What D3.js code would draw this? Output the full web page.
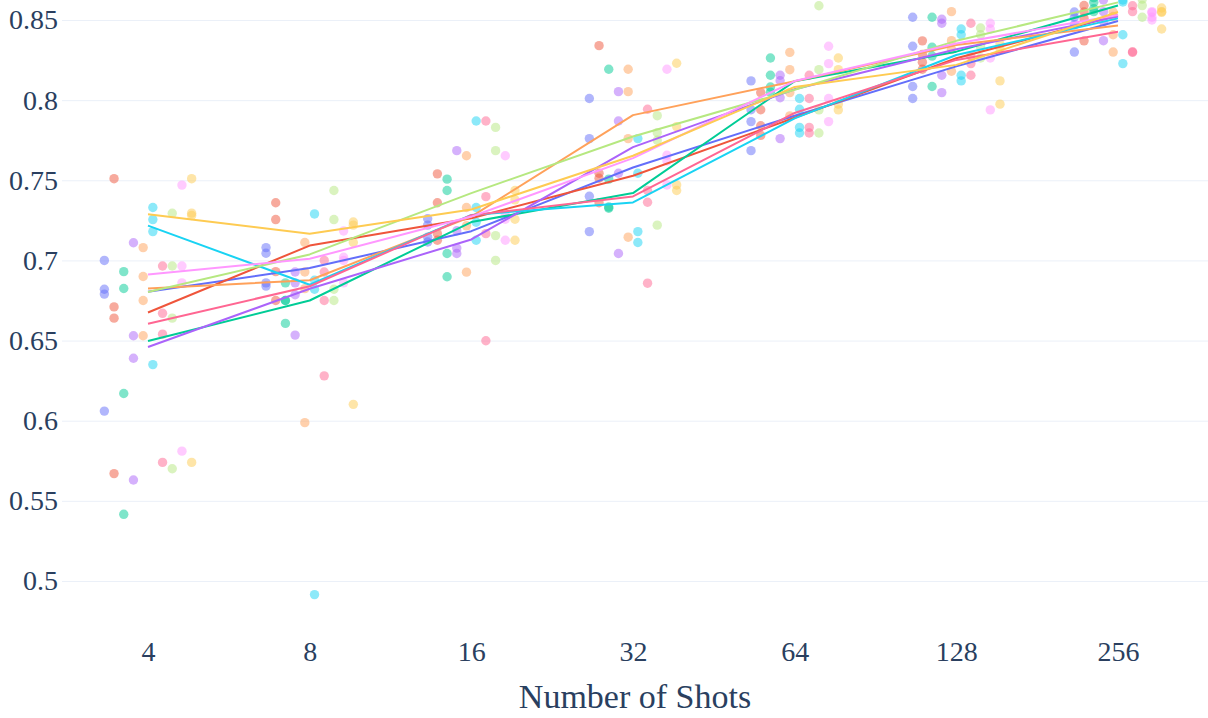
<!DOCTYPE html>
<html><head><meta charset="utf-8">
<script src="https://cdn.jsdelivr.net/npm/d3@7"></script>
<style>body{margin:0;background:#fff} svg text{font-family:"Liberation Serif","Times New Roman",Tinos,serif !important;}</style>
</head><body><svg id="c" width="1208" height="718"></svg>
<script>
const shots = [4, 8, 16, 32, 64, 128, 256];
const yTicks = [0.5, 0.55, 0.6, 0.65, 0.7, 0.75, 0.8, 0.85];
const colors = ["#636efa","#EF553B","#00cc96","#ab63fa","#FFA15A","#19d3f3","#FF6692","#B6E880","#FF97FF","#FECB52"];

// four runs per shot count, per series
const series1 = [[0.700,0.682,0.679,0.606],[0.708,0.7045,0.686,0.684],[0.726,0.722,0.7145,0.7115],[0.801,0.776,0.740,0.718],[0.812,0.794,0.7866,0.7685],[0.8517,0.8336,0.8085,0.801],[0.855,0.8517,0.847,0.830]];
const series2 = [[0.751,0.671,0.664,0.567],[0.736,0.7255,0.693,0.675],[0.754,0.736,0.7167,0.7126],[0.834,0.7544,0.7513,0.736],[0.8047,0.794,0.784,0.778],[0.837,0.8285,0.8237,0.8193],[0.859,0.855,0.851,0.837]];
const series3 = [[0.693,0.6825,0.617,0.5416],[0.686,0.675,0.675,0.6607],[0.7507,0.7436,0.7043,0.6898],[0.8193,0.7507,0.7333,0.7326],[0.8263,0.8155,0.8082,0.805],[0.8517,0.833,0.8275,0.8085],[0.864,0.861,0.857,0.8552]];
const series4 = [[0.711,0.653,0.639,0.563],[0.6928,0.686,0.6786,0.6534],[0.7685,0.7185,0.7077,0.7043],[0.8053,0.787,0.7544,0.7043],[0.8155,0.8121,0.8015,0.776],[0.8505,0.848,0.8155,0.8047],[0.8625,0.8552,0.849,0.8371]];
const series5 = [[0.708,0.690,0.675,0.653],[0.7112,0.6928,0.6824,0.5988],[0.7653,0.733,0.7216,0.6927],[0.8193,0.8053,0.776,0.7145],[0.8298,0.819,0.8047,0.7902],[0.8552,0.8371,0.8317,0.818],[0.855,0.8522,0.8408,0.830]];
const series6 = [[0.733,0.7255,0.718,0.635],[0.729,0.6876,0.682,0.4915],[0.787,0.733,0.7238,0.7126],[0.776,0.7544,0.718,0.7112],[0.801,0.7943,0.783,0.7795],[0.8444,0.8408,0.8155,0.812],[0.8625,0.8612,0.8408,0.8228]];
const series7 = [[0.6965,0.667,0.654,0.574],[0.700,0.6928,0.675,0.628],[0.787,0.7398,0.7167,0.6499],[0.7943,0.7436,0.7363,0.6858],[0.8155,0.801,0.783,0.7795],[0.848,0.8274,0.8228,0.8155],[0.8589,0.8552,0.8302,0.8298]];
const series8 = [[0.7294,0.6965,0.664,0.570],[0.7436,0.7255,0.682,0.675],[0.783,0.7685,0.7155,0.700],[0.7903,0.7797,0.775,0.722],[0.8589,0.819,0.7939,0.7795],[0.845,0.8408,0.8332,0.8263],[0.866,0.863,0.859,0.8517]];
const series9 = [[0.747,0.6965,0.686,0.581],[0.7184,0.702,0.700,0.686],[0.7653,0.729,0.7257,0.7126],[0.8193,0.7656,0.762,0.7471],[0.8336,0.8228,0.801,0.7866],[0.848,0.8444,0.8263,0.7939],[0.8552,0.8545,0.8517,0.850]];
const series10 = [[0.751,0.7295,0.728,0.574],[0.724,0.722,0.7112,0.6102],[0.7436,0.7378,0.7257,0.7126],[0.823,0.7835,0.7471,0.7436],[0.8263,0.819,0.7975,0.7939],[0.835,0.832,0.812,0.7975],[0.8575,0.8552,0.8548,0.8444]];

const allSeries = [series1,series2,series3,series4,series5,series6,series7,series8,series9,series10];

const plot = {left: 62, right: 1208, top: 0, bottom: 620};
const x = d3.scaleLog().base(2).domain([4, 256]).range([148, 1118]);
const y = d3.scaleLinear().domain([0.5, 0.85]).range([581, 20]);
const svg = d3.select("#c");
const font = "Liberation Serif";
const txt = "#2a3f5f";

svg.append("defs").append("clipPath").attr("id","clip")
  .append("rect").attr("x",plot.left).attr("y",plot.top)
  .attr("width",plot.right-plot.left).attr("height",plot.bottom-plot.top);

// y axis with grid
const ya = svg.append("g").attr("transform",`translate(${plot.left},0)`)
  .call(d3.axisLeft(y).tickValues(yTicks).tickSize(-(plot.right-plot.left)).tickPadding(4).tickFormat(d => String(d)));
ya.attr("font-family", font).attr("font-size", 28);
ya.select(".domain").remove();
ya.selectAll(".tick line").attr("stroke","#EBF0F8").attr("stroke-width",1);
ya.selectAll(".tick text").attr("fill",txt);

// x axis
const xa = svg.append("g").attr("transform",`translate(0,${plot.bottom})`)
  .call(d3.axisBottom(x).tickValues(shots).tickSize(0).tickPadding(21).tickFormat(d => String(d)));
xa.attr("font-family", font).attr("font-size", 28);
xa.select(".domain").remove();
xa.selectAll(".tick text").attr("fill",txt);

svg.append("text").attr("x",(plot.left+plot.right)/2).attr("y",708)
  .attr("text-anchor","middle").attr("fill",txt)
  .attr("font-family", font).attr("font-size", 34).text("Number of Shots");

const body = svg.append("g").attr("clip-path","url(#clip)");
const n = allSeries.length;

// scatter of individual runs, offset per series
allSeries.forEach((s, i) => {
  const off = Math.pow(2, (i - (n-1)/2) * 0.06);
  const pts = [];
  s.forEach((vals, j) => vals.forEach(v => pts.push({sx: shots[j]*off, v})));
  body.append("g").selectAll("circle").data(pts).join("circle")
    .attr("cx", d => x(d.sx)).attr("cy", d => y(d.v)).attr("r", 4.7)
    .attr("fill", colors[i]).attr("fill-opacity", 0.5);
});

// median lines
const line = d3.line().x(d => x(d.s)).y(d => y(d.m));
allSeries.forEach((s, i) => {
  const med = s.map((vals, j) => ({s: shots[j], m: d3.median(vals)}));
  body.append("path").datum(med).attr("d", line).attr("fill","none")
    .attr("stroke", colors[i]).attr("stroke-width", 2).attr("stroke-linejoin","round");
});
</script></body></html>
